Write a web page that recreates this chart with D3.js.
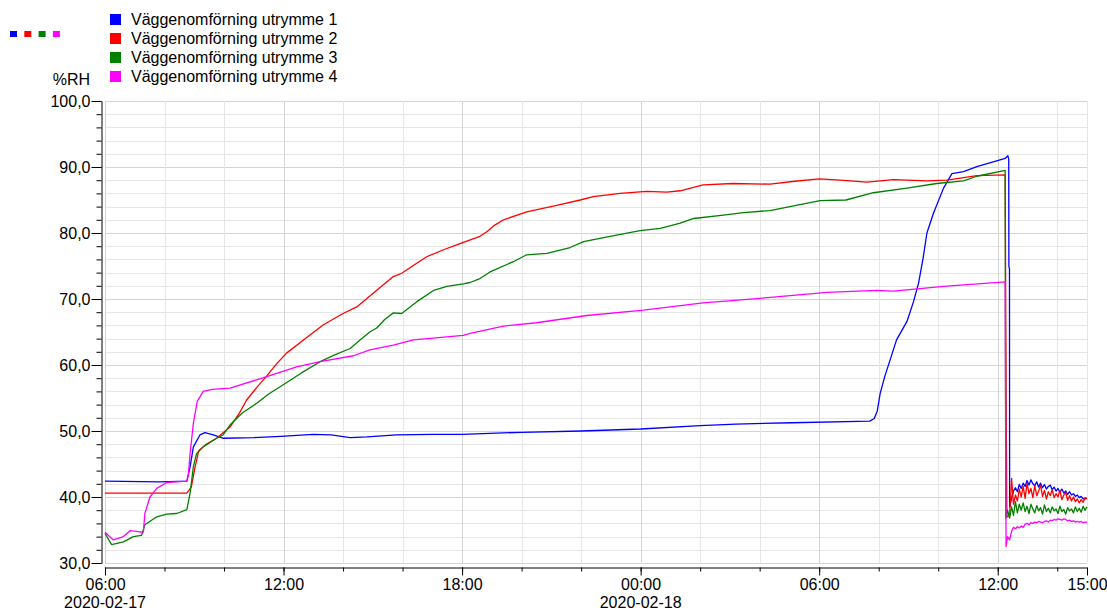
<!DOCTYPE html>
<html>
<head>
<meta charset="utf-8">
<script src="https://cdn.jsdelivr.net/npm/d3@7"></script>
<style>
  body { margin: 0; background: #fff; }
  text { font-family: "Liberation Sans", Arial, sans-serif; fill: #000; }
</style>
</head>
<body>
<div id="chart"></div>
<script>
// hours counted from 2020-02-17 06:00
const seriesNames = ['Väggenomförning utrymme 1', 'Väggenomförning utrymme 2', 'Väggenomförning utrymme 3', 'Väggenomförning utrymme 4'];
const seriesColours = ['#0000ff', '#ff0000', '#008000', '#ff00ff'];

const room1 = [
  [0, 42.4], [1.85, 42.3], [2.75, 42.4], [2.86, 44.6], [2.97, 47.6], [3.19, 49.4], [3.36, 49.75], [3.64, 49.4],
  [3.98, 48.9], [5.0, 49.0], [5.9, 49.2], [7.0, 49.5], [7.6, 49.4], [8.24, 49.0], [8.8, 49.1], [9.8, 49.4],
  [11.0, 49.5], [12.0, 49.5], [14.0, 49.8], [16.0, 50.0], [18.0, 50.3], [20.0, 50.8], [21.2, 51.05], [23.1, 51.25],
  [25.7, 51.5], [25.85, 51.9], [25.95, 53.0], [26.05, 55.7], [26.2, 58.2], [26.6, 63.8], [26.95, 66.6], [27.17, 69.6],
  [27.34, 72.4], [27.5, 76.4], [27.62, 80.0], [27.84, 83.0], [28.18, 86.8], [28.46, 89.0], [28.85, 89.3], [29.3, 90.05],
  [30.25, 91.3], [30.34, 91.7], [30.37, 91.2], [30.375, 74.9], [30.395, 74.6]
];
const room2 = [
  [0, 40.6], [2.75, 40.6], [2.9, 41.5], [3.03, 44.6], [3.15, 47.0], [3.4, 48.0], [3.75, 48.9], [4.2, 50.6],
  [4.5, 52.6], [4.76, 54.7], [5.1, 56.6], [5.41, 58.2], [5.75, 60.1], [6.1, 61.8], [6.67, 63.8], [7.34, 66.1],
  [8.0, 67.8], [8.46, 68.8], [9.02, 70.9], [9.69, 73.4], [9.97, 73.9], [10.4, 75.2], [10.81, 76.4], [11.4, 77.5],
  [11.93, 78.4], [12.6, 79.5], [12.83, 80.2], [13.1, 81.2], [13.39, 82.0], [14.17, 83.2], [15.18, 84.2], [15.97, 85.0],
  [16.41, 85.5], [17.31, 86.0], [18.2, 86.3], [18.88, 86.2], [19.33, 86.4], [20.1, 87.3], [21.1, 87.5], [22.35, 87.4],
  [23.1, 87.8], [24.0, 88.2], [24.7, 88.0], [25.6, 87.7], [26.5, 88.1], [27.62, 87.9], [28.29, 88.0], [29.3, 88.7],
  [30.25, 88.8], [30.27, 66.6], [30.29, 48.9], [30.31, 37.0]
];
const room3 = [
  [0, 34.5], [0.22, 32.8], [0.62, 33.2], [0.95, 34.0], [1.23, 34.2], [1.34, 35.8], [1.74, 37.0], [2.07, 37.4],
  [2.41, 37.5], [2.75, 38.1], [2.86, 40.6], [2.97, 44.6], [3.08, 46.6], [3.3, 47.6], [3.75, 48.9], [3.97, 49.4],
  [4.2, 50.9], [4.6, 52.7], [5.1, 54.2], [5.5, 55.6], [5.99, 57.0], [6.6, 58.8], [7.23, 60.5], [7.7, 61.5],
  [8.24, 62.5], [8.6, 63.9], [8.9, 65.0], [9.13, 65.6], [9.4, 66.9], [9.69, 67.9], [9.97, 67.8], [10.48, 69.6],
  [11.04, 71.3], [11.49, 71.9], [12.04, 72.3], [12.27, 72.5], [12.6, 73.1], [12.94, 74.1], [13.72, 75.65], [14.17, 76.7],
  [14.85, 76.9], [15.63, 77.8], [16.08, 78.7], [16.97, 79.5], [17.98, 80.35], [18.66, 80.7], [19.33, 81.5], [19.78, 82.2],
  [20.78, 82.7], [21.46, 83.1], [22.35, 83.4], [23.14, 84.1], [24.03, 84.9], [24.9, 85.0], [25.82, 86.1], [26.95, 86.8],
  [27.95, 87.5], [28.85, 87.9], [29.3, 88.6], [30.25, 89.5], [30.27, 36.8], [30.33, 38.0]
];
const room4 = [
  [0, 34.65], [0.28, 33.5], [0.62, 34.0], [0.84, 34.9], [1.18, 34.7], [1.29, 34.7], [1.34, 37.5], [1.51, 40.0],
  [1.74, 41.3], [2.07, 42.2], [2.75, 42.4], [2.8, 43.3], [2.86, 46.6], [2.97, 51.2], [3.1, 54.5], [3.3, 56.0],
  [3.6, 56.3], [4.2, 56.5], [5.41, 58.2], [6.44, 59.7], [7.23, 60.5], [8.35, 61.4], [8.9, 62.3], [9.69, 63.0],
  [10.36, 63.8], [12.04, 64.5], [12.27, 64.8], [13.39, 65.9], [14.5, 66.4], [16.19, 67.5], [18.1, 68.3], [20.1, 69.4],
  [22.0, 70.1], [24.26, 71.0], [25.94, 71.3], [26.5, 71.2], [28.18, 71.9], [30.25, 72.6], [30.28, 32.5], [30.33, 34.0]
];

// noisy readings after the drop, shared sample times
const tailHours = d3.range(41).map(i => 30.4 + i * 0.065);
const tail1 = [38.5, 39.8, 40.9, 41.4, 40.8, 41.9, 41.3, 42.1, 41.6, 42.5, 41.8, 42.6, 42.0, 41.7, 42.3, 41.5, 42.1, 41.4, 41.9, 41.2,
  41.6, 41.8, 41.1, 41.5, 40.9, 41.3, 40.7, 41.2, 40.6, 40.9, 40.4, 40.8, 40.3, 40.5, 40.1, 40.3, 39.9, 40.1, 39.7, 39.8, 39.7];
const tail2 = [37.2, 42.8, 38.9, 40.3, 39.4, 41.2, 40.0, 41.6, 39.8, 42.1, 40.5, 41.3, 39.9, 41.7, 40.2, 40.9, 41.8, 40.1, 41.0, 39.7,
  40.8, 40.2, 41.1, 39.9, 40.5, 40.0, 41.0, 39.6, 40.3, 40.7, 39.5, 40.2, 39.4, 40.0, 39.3, 39.7, 39.1, 39.6, 39.2, 39.9, 39.8];
const tail3 = [36.8, 38.5, 37.2, 39.3, 37.6, 38.9, 38.0, 39.1, 37.8, 38.6, 37.5, 38.9, 38.2, 37.6, 38.7, 37.9, 38.4, 37.4, 38.8, 37.8,
  38.3, 37.6, 38.5, 37.9, 38.2, 37.5, 38.6, 37.8, 38.1, 37.4, 38.4, 37.9, 38.2, 37.6, 38.5, 37.8, 38.3, 37.7, 38.6, 38.0, 38.5];
const tail4 = [33.5, 34.8, 35.4, 35.2, 35.5, 35.3, 35.6, 35.4, 35.9, 36.0, 35.8, 36.1, 36.0, 36.2, 36.1, 36.3, 36.2, 36.1, 36.3, 36.4,
  36.2, 36.5, 36.4, 36.6, 36.5, 36.7, 36.6, 36.5, 36.7, 36.6, 36.4, 36.5, 36.3, 36.4, 36.2, 36.3, 36.2, 36.3, 36.1, 36.2, 36.2];

const yMajorTicks = [30, 40, 50, 60, 70, 80, 90, 100];
const xMajorHours = [0, 6, 12, 18, 24, 30, 33];
const dateLabels = [[0, '2020-02-17'], [18, '2020-02-18']];

const width = 1107;
const height = 610;
const dim = { left: 105, right: 1087, top: 101, bottom: 563, yAxisX: 101, xAxisY: 567, fontSize: '16px' };

const start = new Date(2020, 1, 17, 6);
const toDate = h => new Date(+start + h * 3600e3);

const svg = d3.select('#chart').append('svg')
  .attr('width', width)
  .attr('height', height);

const x = d3.scaleTime()
  .domain([toDate(0), toDate(33)])
  .range([dim.left, dim.right]);
const y = d3.scaleLinear()
  .domain([30, 100])
  .range([dim.bottom, dim.top]);

drawGrid();
drawAxes();
drawSeries();
drawLegend();

function drawGrid() {
  const g = svg.append('g').attr('class', 'grid');
  d3.range(30, 101, 2).forEach(v => {
    g.append('line')
      .attr('x1', dim.left).attr('x2', dim.right)
      .attr('y1', Math.round(y(v)) + 0.5).attr('y2', Math.round(y(v)) + 0.5)
      .attr('stroke', v % 10 === 0 ? '#d4d4d4' : '#e6e6e6');
  });
  d3.range(0, 34, 2).concat([33]).forEach(h => {
    g.append('line')
      .attr('x1', Math.round(x(toDate(h))) + 0.5).attr('x2', Math.round(x(toDate(h))) + 0.5)
      .attr('y1', dim.top).attr('y2', dim.bottom)
      .attr('stroke', h % 6 === 0 ? '#d4d4d4' : '#e6e6e6');
  });
}

function drawAxes() {
  const fmt = v => d3.format('.1f')(v).replace('.', ',');

  // y axis: minor every 2, major every 10
  svg.append('g')
    .attr('transform', `translate(${dim.yAxisX + 0.5}, 0)`)
    .call(d3.axisLeft(y).tickValues(d3.range(30, 101, 2)).tickSize(5).tickFormat(''))
    .call(g => g.select('.domain').remove());
  const yAxis = svg.append('g')
    .attr('transform', `translate(${dim.yAxisX + 0.5}, 0)`)
    .call(d3.axisLeft(y).tickValues(yMajorTicks).tickSize(10).tickSizeOuter(0).tickPadding(1).tickFormat(fmt));
  yAxis.selectAll('text').style('font-size', dim.fontSize);

  // x axis: minor every 2 hours, labelled ticks longer
  svg.append('g')
    .attr('transform', `translate(0, ${dim.xAxisY + 0.5})`)
    .call(d3.axisBottom(x).tickValues(d3.range(0, 34, 2).map(toDate)).tickSize(4).tickFormat(''))
    .call(g => g.select('.domain').remove());
  const xAxis = svg.append('g')
    .attr('transform', `translate(0, ${dim.xAxisY + 0.5})`)
    .call(d3.axisBottom(x).tickValues(xMajorHours.map(toDate)).tickSize(8).tickSizeOuter(0).tickPadding(3)
      .tickFormat(d3.timeFormat('%H:%M')));
  xAxis.selectAll('text').style('font-size', dim.fontSize);

  dateLabels.forEach(([h, label]) => {
    svg.append('text')
      .attr('x', x(toDate(h)))
      .attr('y', 608)
      .attr('text-anchor', 'middle')
      .style('font-size', dim.fontSize)
      .text(label);
  });

  svg.append('text')
    .attr('x', 90)
    .attr('y', 85)
    .attr('text-anchor', 'end')
    .style('font-size', dim.fontSize)
    .text('%RH');
}

function drawSeries() {
  const line = d3.line()
    .x(d => x(toDate(d[0])))
    .y(d => y(d[1]));
  const rooms = [room1, room2, room3, room4];
  const tails = [tail1, tail2, tail3, tail4];
  const plot = svg.append('g').attr('class', 'series');

  rooms.forEach((room, i) => {
    const points = room.concat(tailHours.map((h, k) => [h, tails[i][k]]));
    plot.append('path')
      .datum(points)
      .attr('fill', 'none')
      .attr('stroke', seriesColours[i])
      .attr('stroke-width', 1.3)
      .attr('stroke-linejoin', 'round')
      .attr('d', line);
  });
}

function drawLegend() {
  // small colour keys top left
  seriesColours.forEach((c, i) => {
    svg.append('rect')
      .attr('x', 10 + i * 14.3)
      .attr('y', 31)
      .attr('width', 7)
      .attr('height', 6)
      .attr('fill', c);
  });

  const legend = svg.append('g').attr('class', 'legend');
  seriesNames.forEach((name, i) => {
    legend.append('rect')
      .attr('x', 110)
      .attr('y', 14 + i * 19)
      .attr('width', 11)
      .attr('height', 11)
      .attr('fill', seriesColours[i]);
    legend.append('text')
      .attr('x', 131)
      .attr('y', 25 + i * 19)
      .style('font-size', dim.fontSize)
      .text(name);
  });
}
</script>
</body>
</html>
